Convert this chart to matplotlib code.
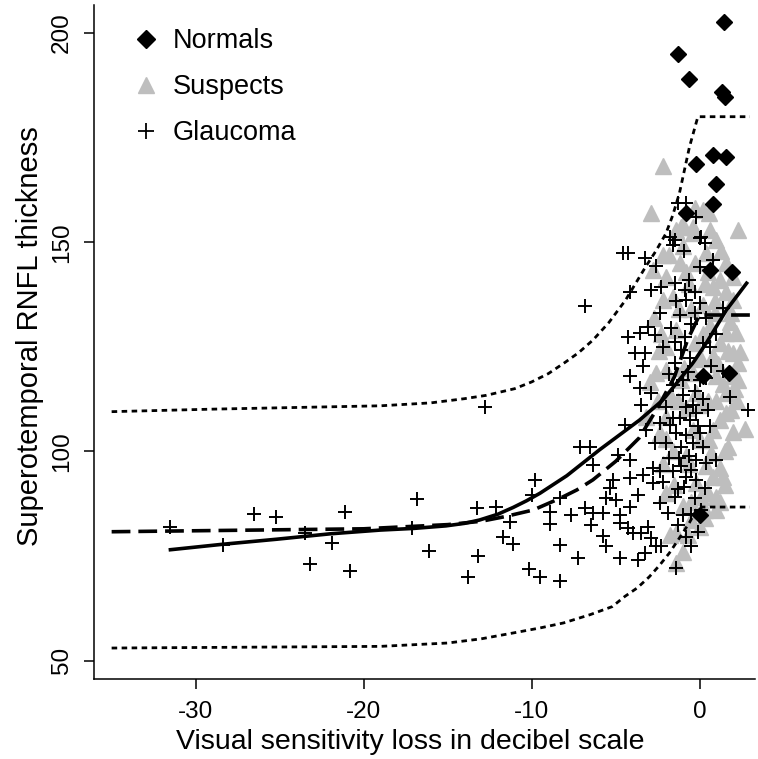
import matplotlib
matplotlib.use("Agg")
import matplotlib.pyplot as plt
from matplotlib.lines import Line2D

plt.rcParams['font.family'] = ['Liberation Sans', 'DejaVu Sans']

# ---------------- data ----------------
normals_x = [1.45, -1.29, -0.65, 1.35, 1.5, 0.79, 1.59, -0.2, 0.99, 0.79, -0.79, 0.2, 1.78, 0.6, 1.96, 0.0]
normals_y = [202.7, 195.1, 188.9, 186.0, 184.8, 170.8, 170.4, 168.6, 163.8, 159.1, 156.9, 118.0, 118.7, 143.4, 143.0, 84.8]

suspects_x = [-2.18, -2.87, -0.3, 0.59, -1.09, -0.4, 2.28, -2.18, -2.78, -1.98, -1.19, 1.59,
              0.2, -0.99, 1.98, -2.18, 0.79, 1.98, 2.18, 1.98, -1.98, -2.58, -1.98, -2.97,
              -0.4, 0.79, 2.28, 2.38, 1.59, 0.4, 0.99, -0.4, -1.39,
              1.98, 1.19, 1.59, 0.7, 0.79, 0.99, 0.5, -1.39, 0.0, -0.49, -1.39, -1.78,
              -0.2, 0.4, 0.0, 0.59, -0.79, 0.0, -1.98, -2.38, -3.17,
              1.2, 1.6, 0.5, -0.8, -1.6, -1.2, 0.9, 1.8, 1.2, 2.0, 1.6, 2.2, 1.4, 1.0, 2.68,
              1.5, 1.2, 1.5, 1.0, 0.3, -0.5, -1.0, -1.5, -2.0, -0.8, -1.6, -2.2, -1.3, -2.5,
              -2.3, -2.7, -0.3, 0.2, -0.9, 0.1, -1.8, -0.3, 0.6, -1.0, -0.7, 0.3, -1.0,
              1.3, 1.9, 0.9, 1.7, 0.6, 1.1, 1.7, 2.1, 0.3, -0.6, -1.4, -0.2, 1.4, 0.8,
              -1.7, -2.4, -0.6, 0.5, 1.0, 1.9, 2.3, 0.2, -0.5, -1.1, -2.0, 1.2, 0.1, -0.4]
suspects_y = [168.3, 156.9, 158.1, 156.9, 153.7, 153.7, 152.9, 147.0, 143.4, 141.8, 145.0, 145.0,
              157.7, 154.1, 141.8, 136.2, 139.4, 136.2, 128.2, 123.5, 125.0, 118.7, 119.5, 116.7,
              118.7, 122.7, 121.1, 123.8, 128.2, 147.4, 150.5, 152.1, 152.9,
              104.7, 107.5, 109.1, 99.6, 94.0, 89.2, 90.0, 80.4, 82.0, 83.6, 73.3, 80.0,
              92.4, 96.4, 102.7, 102.7, 110.3, 111.1, 108.3, 104.3, 108.3,
              141.0, 138.0, 143.0, 143.0, 137.0, 134.0, 133.0, 131.0, 126.0, 118.0, 114.0, 112.0, 116.0, 112.0, 105.3,
              100.0, 96.0, 92.0, 86.0, 86.0, 88.0, 87.0, 92.0, 90.0, 99.0, 100.0, 97.0, 112.0, 112.0,
              128.0, 132.0, 126.0, 128.0, 120.0, 122.0, 147.0, 145.0, 153.0, 149.0, 80.0, 84.0, 76.0,
              148.0, 133.0, 136.0, 124.0, 130.0, 121.0, 101.0, 115.0, 140.0, 140.0, 129.0, 114.0, 94.0, 105.0,
              113.0, 124.0, 97.0, 112.0, 118.0, 110.0, 117.0, 135.0, 134.0, 117.0, 103.0, 88.0, 89.0, 105.0]

glaucoma_x = [-31.5, -28.4, -26.5, -25.2, -23.5, -23.2, -21.9, -21.1, -20.8,
              -16.8, -17.1, -16.1,
              -12.8, -13.25, -12.1, -13.2, -13.8,
              -9.8, -10.0, -11.3, -11.7, -11.1,
              -8.9, -8.9, -8.3, -10.15, -9.5, -8.3, -8.3,
              -7.1, -6.5, -6.35, -4.86, -4.16, -4.46,
              -5.16, -4.16, -3.37, -5.35, -5.55, -4.96,
              -7.63, -6.84, -6.35, -5.75, -6.44, -4.76, -4.16, -3.67,
              -4.76, -4.27, -3.97, -3.47, -3.08, -5.75, -5.55,
              -7.24, -4.76, -3.67, -3.27, -2.87, -2.58, -2.28,
              2.87, -1.39, -0.79, -0.49, -0.1,
              -2.38, -1.88, -1.29, -1.49, -0.99, -2.78, -2.18, -2.78, -2.38, -1.59, -1.09, -0.49, -0.2, 0.3, -0.3,
              -2.68, -1.98, -1.39, -0.79, -0.4, 0.0, 0.2, 0.99, 0.4,
              -2.38, -1.78, -3.17, -3.47, -0.59, -0.2, -1.19, 0.5, -0.79,
              -6.84, -4.56, -4.27, -3.27, -2.58, -4.16, -2.87, -2.28, -1.49, -0.89, -0.3, -0.79, 0.0,
              -2.38, -1.19, 0.4, 1.39,
              -4.27, -3.57, -3.08, -2.68, -1.69, -0.89, -1.49, -1.09,
              -3.87, -3.27, -3.37, -4.16, -3.57, -2.87, -1.59, 0.0, 0.7, 1.39, 0.4, -1.49, -0.59,
              -1.78, -1.49, 0.1, 0.3, 0.79, -1.29, -0.79, 0.0, -1.59,
              -1.0, -0.3, 0.2, -1.8, -2.2, 1.0, 0.6, -0.5, 1.8, -2.0, -1.2, -0.9, -1.8,
              -0.6, -0.1, -1.1, -0.4, -0.8, 0.1, -1.3, -0.5, -0.2, -1.6, 0.6, -0.7, -1.0, 0.2,
              -0.3, -1.4, -0.6, 0.0, -0.9, -0.2]
glaucoma_y = [82.0, 77.7, 85.1, 84.3, 80.4, 73.1, 78.0, 85.5, 71.3,
              88.6, 81.6, 76.1,
              110.7, 86.4, 86.6, 74.9, 69.9,
              93.2, 89.6, 83.2, 79.5, 77.9,
              85.5, 82.7, 77.7, 71.9, 69.9, 69.1, 88.8,
              101.1, 101.1, 96.8, 99.2, 98.0, 106.3,
              93.2, 93.6, 94.4, 91.2, 88.8, 88.4,
              84.8, 86.4, 85.2, 85.2, 82.4, 84.8, 86.8, 89.6,
              82.8, 81.6, 80.4, 80.4, 82.0, 79.7, 77.3,
              74.5, 74.5, 74.1, 75.7, 79.3, 77.3, 77.3,
              109.9, 72.1, 79.6, 77.3, 80.8,
              87.6, 85.2, 82.4, 89.2, 84.8, 92.4, 92.8, 96.0, 95.2, 95.2, 96.4, 95.6, 93.2, 91.2, 88.8,
              102.0, 102.0, 104.3, 103.9, 102.0, 104.3, 101.1, 98.0, 97.2,
              106.7, 106.3, 105.1, 111.1, 107.5, 109.1, 107.9, 109.9, 110.7,
              134.8, 147.5, 147.5, 146.2, 144.2, 138.2, 138.6, 139.2, 140.2, 138.6, 138.2, 136.2, 135.4,
              133.0, 132.6, 131.8, 134.2,
              127.4, 128.2, 129.8, 127.8, 129.4, 127.4, 126.2, 124.3,
              123.5, 123.5, 120.3, 118.0, 115.1, 113.9, 115.9, 117.1, 120.3, 119.1, 117.5, 121.1, 122.3,
              151.3, 150.5, 151.3, 149.7, 145.8, 159.3, 159.3, 150.9, 149.3,
              113.5, 114.5, 112.5, 118.5, 125.0, 128.0, 125.0, 130.5, 113.0, 110.5, 98.5, 91.5, 98.5,
              99.0, 106.0, 101.0, 111.0, 94.0, 86.0, 91.0, 85.0, 98.0, 108.0, 106.0, 119.0, 117.0, 126.0,
              133.0, 136.0, 141.0, 144.0, 148.0, 156.0]

# fitted curves
upper_x = [-35, -29, -19, -16, -14, -12.7, -11, -10, -9, -8, -7.2, -6.35, -5.4, -4.4, -3.2, -2.6, -2, -1.6, -1.2, -0.6, -0.1, 3.0]
upper_y = [109.5, 110.1, 110.9, 111.6, 112.6, 113.4, 115.0, 116.6, 118.6, 121.3, 123.6, 126.6, 130.8, 136.2, 144.2, 147.9, 152.1, 156.4, 161.7, 172.8, 180.0, 180.0]

lower_x = [-35, -19, -15, -13, -11.1, -9.5, -8.1, -6.5, -5.2, -4.46, -3.7, -3.0, -2.4, -1.8, -1.2, -0.6, -0.1, 3.0]
lower_y = [53.0, 53.4, 54.2, 55.2, 56.6, 57.8, 59.0, 61.0, 62.9, 65.3, 67.4, 70.0, 72.7, 75.7, 79.3, 83.0, 86.7, 86.7]

dashed_x = [-35, -20, -15, -13, -11.6, -9.9, -8.3, -7.3, -6.35, -5.0, -3.6, -2.5, -1.5, -0.7, 0.0, 3.0]
dashed_y = [80.8, 81.5, 82.5, 83.3, 84.4, 86.0, 88.8, 90.8, 93.2, 97.6, 103.2, 110.4, 117.8, 126.8, 132.6, 132.6]

solid_x = [-31.5, -28.4, -25.2, -22.0, -19.0, -17.0, -15.1, -14.0, -13.1, -12.0, -11.1, -10.3, -9.5, -7.9, -5.95, -3.57, -2.18, -0.4, 0.4, 1.6, 2.8]
solid_y = [76.5, 77.8, 79.0, 80.3, 81.2, 81.6, 82.2, 82.8, 83.6, 85.0, 86.6, 88.2, 90.0, 94.2, 100.4, 107.5, 112.3, 121.1, 125.9, 133.8, 140.2]

x_ticks = [-30, -20, -10, 0]
y_ticks = [50, 100, 150, 200]
legend_labels = ["Normals", "Suspects", "Glaucoma"]

# ---------------- figure ----------------
W, H = 758, 759
fig = plt.figure(figsize=(W / 100, H / 100), dpi=100)
ax = fig.add_axes([94 / W, (H - 679) / H, (755 - 94) / W, (679 - 5) / H])

grey = '#BEBEBE'
ax.plot(suspects_x, suspects_y, linestyle='none', marker='^', ms=11.5,
        color=grey, mec=grey, zorder=2)
ax.plot(normals_x, normals_y, linestyle='none', marker='D', ms=7.8,
        color='black', mec='black', zorder=3)
ax.plot(glaucoma_x, glaucoma_y, linestyle='none', marker='+', ms=10.5,
        mew=1.4, color='black', zorder=4)

dot = (0, (2.0, 1.6))
ax.plot(upper_x, upper_y, color='black', lw=2.0, linestyle=dot, zorder=5)
ax.plot(lower_x, lower_y, color='black', lw=2.0, linestyle=dot, zorder=5)
ax.plot(dashed_x, dashed_y, color='black', lw=2.6, linestyle=(0, (5.2, 2.2)), zorder=5)
ax.plot(solid_x, solid_y, color='black', lw=2.6, linestyle='-', zorder=5)

ax.set_xlim(-36.05, 3.3)
ax.set_ylim(45.6, 206.7)
ax.set_xticks(x_ticks)
ax.set_xticklabels([str(v) for v in x_ticks])
ax.set_yticks(y_ticks)
ax.set_yticklabels([str(v) for v in y_ticks], rotation=90, va='center')

for s in ['top', 'right']:
    ax.spines[s].set_visible(False)
for s in ['left', 'bottom']:
    ax.spines[s].set_linewidth(1.1)
ax.tick_params(axis='both', direction='out', length=7.2, width=1.1, labelsize=17.5, colors='black')
ax.tick_params(axis='x', pad=9)
ax.tick_params(axis='y', pad=8)

fig.text(410 / W, 1 - 742 / H, "Visual sensitivity loss in decibel scale", ha='center', va='center', fontsize=20.5)
fig.text(30 / W, 1 - 336 / H, "Superotemporal RNFL thickness", ha='center', va='center', rotation=90, fontsize=21)

leg_n = Line2D([], [], linestyle='none', marker='D', ms=9, color='black')
leg_s = Line2D([], [], linestyle='none', marker='^', ms=12, color=grey)
leg_g = Line2D([], [], linestyle='none', marker='+', ms=11, mew=1.3, color='black')
ax.legend([leg_n, leg_s, leg_g], legend_labels, loc='upper left',
          bbox_to_anchor=(132 / W, 1 - 28 / H), bbox_transform=fig.transFigure,
          frameon=False, fontsize=19.5, handlelength=1.0, handletextpad=0.5,
          labelspacing=0.74, borderpad=0, borderaxespad=0)

fig.savefig("out.png", dpi=100)
